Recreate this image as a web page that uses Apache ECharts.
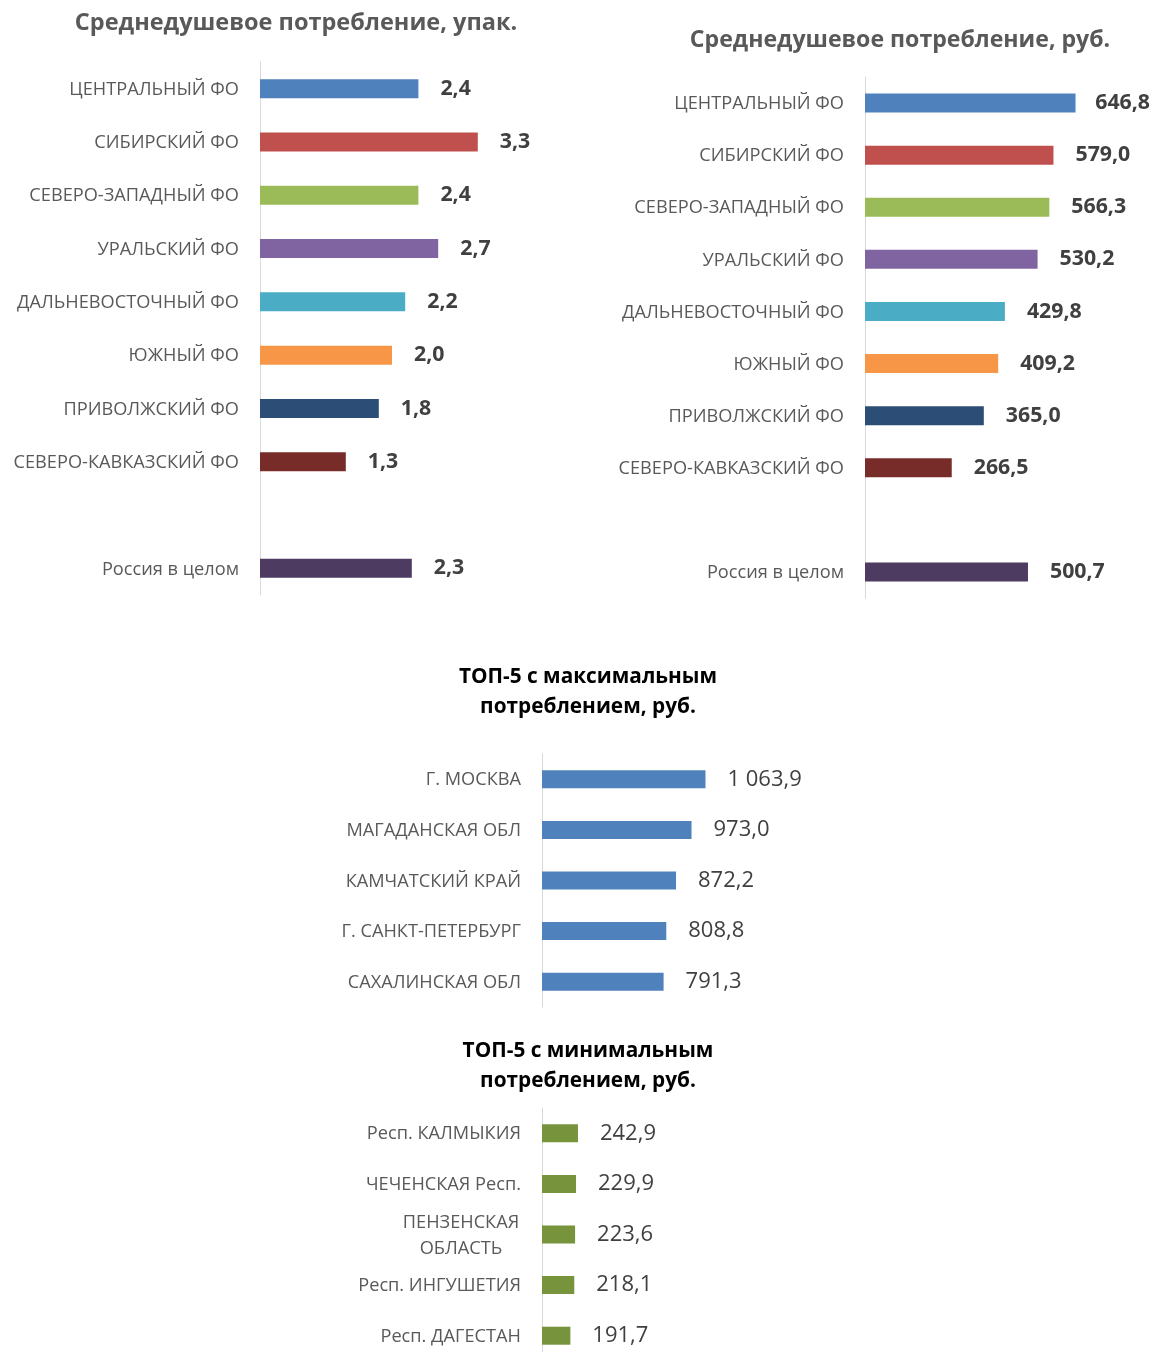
<!DOCTYPE html>
<html><head><meta charset="utf-8">
<script src="https://cdn.jsdelivr.net/npm/echarts@6/dist/echarts.min.js"></script>
<style>html,body{margin:0;padding:0;background:#fff;overflow:hidden}#c{width:1153px;height:1352px}</style>
</head><body><div id="c"></div>
<script>
const districts = ['ЦЕНТРАЛЬНЫЙ ФО','СИБИРСКИЙ ФО','СЕВЕРО-ЗАПАДНЫЙ ФО','УРАЛЬСКИЙ ФО','ДАЛЬНЕВОСТОЧНЫЙ ФО','ЮЖНЫЙ ФО','ПРИВОЛЖСКИЙ ФО','СЕВЕРО-КАВКАЗСКИЙ ФО','','Россия в целом'];
const packsPerCapita = [2.4, 3.3, 2.4, 2.7, 2.2, 2.0, 1.8, 1.3, null, 2.3];
const rublesPerCapita = [646.8, 579.0, 566.3, 530.2, 429.8, 409.2, 365.0, 266.5, null, 500.7];
const topMaxRegions = ['Г. МОСКВА','МАГАДАНСКАЯ ОБЛ','КАМЧАТСКИЙ КРАЙ','Г. САНКТ-ПЕТЕРБУРГ','САХАЛИНСКАЯ ОБЛ'];
const topMaxValues = [1063.9, 973.0, 872.2, 808.8, 791.3];
const topMinRegions = ['Респ. КАЛМЫКИЯ','ЧЕЧЕНСКАЯ Респ.','ПЕНЗЕНСКАЯ\nОБЛАСТЬ','Респ. ИНГУШЕТИЯ','Респ. ДАГЕСТАН'];
const topMinValues = [242.9, 229.9, 223.6, 218.1, 191.7];
const chartTitles = ['Среднедушевое потребление, упак.','Среднедушевое потребление, руб.','ТОП-5 с максимальным\nпотреблением, руб.','ТОП-5 с минимальным\nпотреблением, руб.'];

const districtColors = ['#4F81BD','#C0504D','#9BBB59','#8064A2','#4BACC6','#F79646','#2C4D75','#772C2A','#000','#4D3B62'];
const FONT = 'Open Sans';

function ru(v){ const s = v.toFixed(1).split('.'); return s[0].replace(/\B(?=(\d{3})+(?!\d))/g,' ') + ',' + s[1]; }

const chart = echarts.init(document.getElementById('c'));
const W = 1153;
const catAxis = (gi, cats, fs) => ({
  type:'category', gridIndex: gi, data: cats, inverse: true,
  axisLine:{show:true, lineStyle:{color:'#D9D9D9', width:1}},
  axisTick:{show:false},
  axisLabel:{margin:21, fontSize: fs, color:'#595959', fontFamily: FONT, padding:[2,0,0,0],
    formatter: v => v.indexOf('\n') >= 0 ? v.split('\n').map(s => '{c|' + s + '}').join('\n') : v,
    rich:{c:{width:120, align:'center', fontSize: fs, color:'#595959', fontFamily: FONT, lineHeight: 26}}}
});
const valAxis = (gi, max) => ({type:'value', gridIndex: gi, min:0, max:max, show:false, splitLine:{show:false}});
const barSeries = (gi, vals, colorFn, bw, bold) => ({
  type:'bar', xAxisIndex: gi, yAxisIndex: gi, data: vals, barWidth: bw,
  itemStyle:{color: colorFn},
  label:{show:true, position:'right', distance:22, fontFamily: FONT, fontSize: bold ? 21.3 : 22, fontWeight: bold ? 'bold':'normal', color:'#404040', padding:[3,0,0,0], formatter: p => ru(p.value)},
  labelLayout: p => { const r = p.labelRect; const over = r.x + r.width - (W - 3); return over > 0 ? {dx: -over} : {}; },
  animation:false
});
const ttl = (i, cx, top, fs, color, lh) => ({text: chartTitles[i], left: cx, top: top, textAlign:'center', padding:0,
  textStyle:{fontFamily: FONT, fontWeight:'bold', fontSize: fs, color: color, lineHeight: lh}});

chart.setOption({
  animation:false,
  title:[ttl(0,296,9,23.5,'#595959',28), ttl(1,900,26,23.1,'#595959',28), ttl(2,588,662,20.8,'#000',30), ttl(3,588,1036,20.8,'#000',30)],
  grid:[
    {left:260, top:62, width:264, height:533, outerBoundsMode:'none'},
    {left:865, top:77, width:260.4, height:521, outerBoundsMode:'none'},
    {left:542, top:754, width:184.4, height:253, outerBoundsMode:'none'},
    {left:542, top:1108, width:177.6, height:253, outerBoundsMode:'none'}
  ],
  xAxis:[valAxis(0,4), valAxis(1,800), valAxis(2,1200), valAxis(3,1200)],
  yAxis:[catAxis(0,districts,18.2), catAxis(1,districts,18.2), catAxis(2,topMaxRegions,18.2), catAxis(3,topMinRegions,18.2)],
  series:[
    barSeries(0, packsPerCapita, p => districtColors[p.dataIndex], 19, true),
    barSeries(1, rublesPerCapita, p => districtColors[p.dataIndex], 19, true),
    barSeries(2, topMaxValues, '#4F81BD', 18, false),
    barSeries(3, topMinValues, '#77933C', 18, false)
  ]
});
</script></body></html>
